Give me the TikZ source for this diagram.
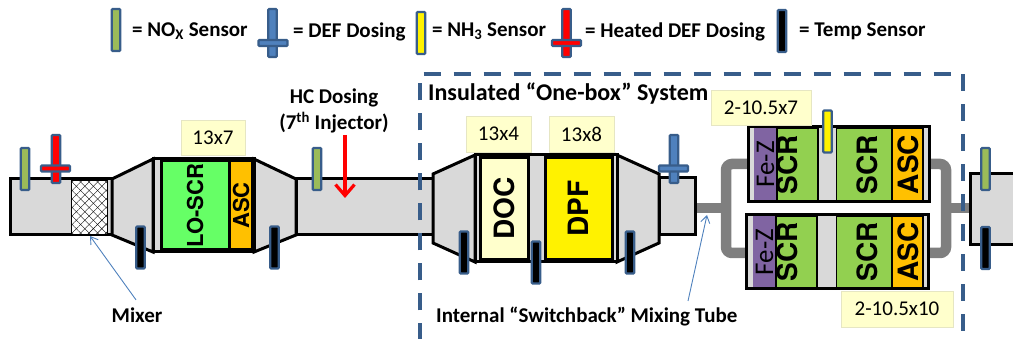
\documentclass[tikz,border=0pt]{standalone}
\usepackage{fontspec}
\setmainfont{Carlito}
\newfontfamily\arialfont{TeX Gyre Heros}
\usetikzlibrary{patterns.meta,arrows.meta}
\definecolor{edgeblue}{HTML}{385D8A}
\definecolor{noxgreen}{HTML}{9BBB59}
\definecolor{defblue}{HTML}{4F81BD}
\definecolor{wallgrey}{HTML}{D9D9D9}
\definecolor{tubegrey}{HTML}{7F7F7F}
\definecolor{scrgreen}{HTML}{92D050}
\definecolor{ascorange}{HTML}{FFC000}
\definecolor{fezpurple}{HTML}{8064A2}
\definecolor{tagyellow}{HTML}{FFFFCC}
\definecolor{tagedge}{HTML}{E6E6C3}
\begin{document}
\begin{tikzpicture}[x=1pt,y=-1pt,
   wall/.style={draw=black,line width=3pt,fill=wallgrey,line join=miter},
   brick/.style={draw=black,line width=3pt,inner sep=0,outer sep=0},
   sensornode/.style={draw=edgeblue,line width=2.2pt,rounded corners=1pt,inner sep=0,outer sep=0,minimum width=8.5pt,minimum height=42pt},
   noxnode/.style={sensornode,fill=noxgreen},
   nhnode/.style={sensornode,fill=yellow},
   tempnode/.style={sensornode,fill=black},
   dosenode/.style={sensornode,minimum height=48pt},
   dosebar/.style={sensornode,minimum width=29pt,minimum height=6pt},
   sizetag/.style={draw=tagedge,line width=.6pt,fill=tagyellow,inner sep=0,font=\fontsize{21}{24}\selectfont},
   keytext/.style={anchor=west,inner sep=0,yshift=-1.5pt,font=\bfseries\fontsize{21}{25}\selectfont},
   brickname/.style={rotate=90,inner sep=0,font=\arialfont\bfseries\fontsize{28}{30}\selectfont},
   feztext/.style={rotate=90,inner sep=0,font=\fontsize{27}{30}\selectfont},
   leader/.style={draw=defblue,line width=.9pt,-{Straight Barb[length=7pt,width=9pt]}},
   tube/.style={draw=tubegrey,line width=10.5pt,rounded corners=6pt}
  ]
  \useasboundingbox (0,0) rectangle (1013,339);
  % key along the top
  \node[noxnode] (keynox) at (116,30) {};
  \node[keytext] (keynoxtext) at (132,30) {= NO\textsubscript{X} Sensor};
  \node[dosenode,fill=defblue] (keydef) at (272.5,33) {};
  \node[dosebar,fill=defblue] (keydefbar) at (273,43) {};
  \node[keytext] (keydeftext) at (293,30) {= DEF Dosing};
  \node[nhnode] (keynh) at (421,33) {};
  \node[keytext] (keynhtext) at (432,30) {= NH\textsubscript{3} Sensor};
  \node[dosenode,fill=red] (keyheat) at (566.5,33) {};
  \node[dosebar,fill=red] (keyheatbar) at (566.5,43) {};
  \node[keytext] (keyheattext) at (585,30) {= Heated DEF Dosing};
  \node[tempnode] (keytemp) at (782,31) {};
  \node[keytext] (keytemptext) at (799,30) {= Temp Sensor};
  % mixing tube behind the two bricks
  \draw[tube] (695,208) -- (726,208);
  \draw[tube] (946,208) -- (972,208);
  \draw[tube] (750,164) -- (726,164) -- (726,253) -- (750,253);
  \draw[tube] (925,164) -- (946,164) -- (946,253) -- (925,253);
  % exhaust line
  \draw[wall] (10,179) rectangle (112,235);
  \draw[wall] (112,179) -- (153,159) -- (153,252) -- (112,235) -- cycle;
  \draw[wall] (254,159) -- (296,179) -- (296,235) -- (254,252) -- cycle;
  \draw[wall] (296,179) rectangle (433,235);
  \draw[wall] (433,174) -- (475,155) -- (475,262) -- (433,243) -- cycle;
  \draw[wall] (617,155) -- (659,174) -- (659,243) -- (617,262) -- cycle;
  \draw[wall] (659,178) rectangle (695,235);
  \draw[wall] (970,174) rectangle (1020,245);
  \fill[white] (71,180) rectangle (107,234);
  \path[pattern={Lines[angle=45,distance=6pt,line width=.4pt]}] (71,180) rectangle (107,234);
  \path[pattern={Lines[angle=-45,distance=6pt,line width=.4pt]}] (71,180) rectangle (107,234);
  \draw[black,line width=.8pt] (71,180) rectangle (107,234);
  \coordinate (mixerend) at (90,236);
  % lo-scr can
  \draw[wall] (153,159) rectangle (254,252);
  \node[brick,fill=green!60!white,minimum width=68pt,minimum height=89pt] (loscr) at (195,205.5) {};
  \node[brick,fill=ascorange,minimum width=23pt,minimum height=89pt] (loasc) at (241,205.5) {};
  \node[brickname,font=\arialfont\bfseries\fontsize{22}{24}\selectfont] at (loscr) {LO-SCR};
  \node[brickname,font=\arialfont\bfseries\fontsize{22}{24}\selectfont] at (loasc) {ASC};
  % doc and dpf can
  \draw[wall] (475,155) rectangle (617,262);
  \node[brick,fill=tagyellow,minimum width=48pt,minimum height=102pt] (doc) at (504,208.5) {};
  \node[brick,fill=yellow,minimum width=67pt,minimum height=102pt] (dpf) at (578.5,208.5) {};
  \node[brickname] at (doc) {DOC};
  \node[brickname] at (dpf) {DPF};
  % upper scr can
  \draw[wall] (748,127) rectangle (929,202);
  \node[brick,fill=fezpurple,draw=none,minimum width=23pt,minimum height=72pt] (fezup) at (765.5,164.5) {};
  \node[brick,fill=scrgreen,line width=1.2pt,minimum width=41pt,minimum height=72pt] (scrupa) at (797.5,164.5) {};
  \node[brick,fill=scrgreen,line width=1.2pt,minimum width=55pt,minimum height=72pt] (scrupb) at (864,164.5) {};
  \node[brick,fill=ascorange,line width=1.2pt,minimum width=31pt,minimum height=72pt] (ascup) at (907.5,164.5) {};
  \node[feztext] at (fezup) {Fe-Z};
  \node[brickname] at (787,164.5) {SCR};
  \node[brickname] at (867,164.5) {SCR};
  \node[brickname] at (908,164.5) {ASC};
  % lower scr can
  \draw[wall] (746,215) rectangle (928,289);
  \node[brick,fill=fezpurple,draw=none,minimum width=23pt,minimum height=71pt] (fezlow) at (764.5,252) {};
  \node[brick,fill=scrgreen,line width=1.2pt,minimum width=41pt,minimum height=71pt] (scrlowa) at (796.5,252) {};
  \node[brick,fill=scrgreen,line width=1.2pt,minimum width=55pt,minimum height=71pt] (scrlowb) at (864,252) {};
  \node[brick,fill=ascorange,line width=1.2pt,minimum width=31pt,minimum height=71pt] (asclow) at (907.5,252) {};
  \node[feztext] at (fezlow) {Fe-Z};
  \node[brickname] at (787,252) {SCR};
  \node[brickname] at (867,252) {SCR};
  \node[brickname] at (908,252) {ASC};
  % probes on the line
  \node[noxnode] (noxa) at (25,169) {};
  \node[dosenode,fill=red] (heata) at (56,159) {};
  \node[dosebar,fill=red] (heatabar) at (55.5,168.5) {};
  \node[tempnode] (tempa) at (140.5,247.5) {};
  \node[tempnode] (tempb) at (274.5,247.5) {};
  \node[noxnode] (noxb) at (317,169) {};
  \node[tempnode] (tempc) at (464,252.5) {};
  \node[tempnode] (tempd) at (536,262.5) {};
  \node[tempnode] (tempe) at (630,252.5) {};
  \node[dosenode,fill=defblue] (defa) at (674,159) {};
  \node[dosebar,fill=defblue] (defabar) at (673.5,168.5) {};
  \node[nhnode] (nha) at (827.5,131.5) {};
  \node[noxnode] (noxc) at (985.5,169) {};
  \node[tempnode] (tempf) at (985.5,248) {};
  % size tags
  \node[sizetag,minimum width=64pt,minimum height=35pt] (tagloscr) at (213,137.5) {13x7};
  \node[sizetag,minimum width=65pt,minimum height=36pt] (tagdoc) at (498.5,134) {13x4};
  \node[sizetag,minimum width=65pt,minimum height=36pt] (tagdpf) at (581.5,134) {13x8};
  \node[sizetag,minimum width=100pt,minimum height=35pt] (tagscra) at (761,107.5) {2-10.5x7};
  \node[sizetag,minimum width=112pt,minimum height=36pt] (tagscrb) at (897,309) {2-10.5x10};
  % labels and arrows
  \node[keytext,anchor=center] (hcdose) at (334,96) {HC Dosing};
  \node[keytext,anchor=center] (hcinj) at (334,121) {(7\textsuperscript{th} Injector)};
  \coordinate (hctail) at (345,135);
  \coordinate (hctip) at (345,198);
  \draw[draw=red,line width=3.2pt,-{Straight Barb[length=11pt,width=19pt,line width=3.2pt]}] (hctail) -- (hctip);
  \node[keytext,anchor=center] (mixer) at (137,314) {Mixer};
  \draw[leader] (mixer.north) ++(-1,-8) coordinate (mixertail) (mixertail) -- (mixerend);
  \node[keytext] (switchback) at (436,315) {Internal “Switchback” Mixing Tube};
  \coordinate (tubetail) at (688,301);
  \coordinate (tubetip) at (707,215);
  \draw[leader] (tubetail) -- (tubetip);
  % insulated box
  \node[keytext,font=\bfseries\fontsize{24}{28}\selectfont] (onebox) at (428,92) {Insulated “One-box” System};
  \draw[draw=edgeblue,line width=3.4pt,dash pattern=on 17pt off 13pt] (420,340.5) -- (420,74) -- (963,74) -- (963,340.5) -- cycle;
\end{tikzpicture}
\end{document}
